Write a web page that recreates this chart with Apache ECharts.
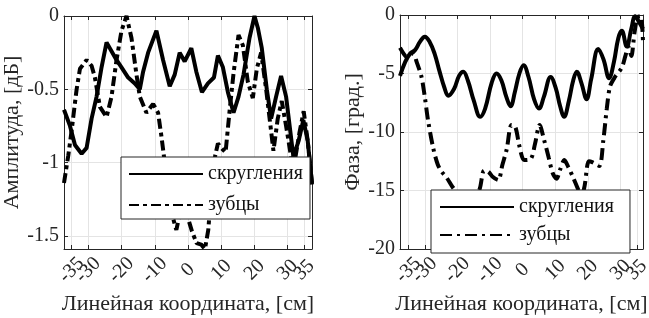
<!DOCTYPE html>
<html>
<head>
<meta charset="utf-8">
<script src="https://cdn.jsdelivr.net/npm/echarts@6/dist/echarts.min.js"></script>
<style>
  html, body { margin: 0; padding: 0; background: #fff; }
  #chart { width: 649px; height: 318px; }
</style>
</head>
<body>
<div id="chart"></div>
<script>
// тики
const xTicks = [-35, -30, -20, -10, 0, 10, 20, 30, 35];
// подписи разнесены по двум осям, чтобы соседние -35/-30 и 30/35 не скрывались
const xLabelsMain = [-35, -20, -10, 0, 10, 20, 35];
const xLabelsExtra = [-30, 30];
const ampTicks = [0, -0.5, -1, -1.5];
const phaseTicks = [0, -5, -10, -15, -20];

// амплитуда, скругления
const ampRoundX = [-37.3, -35.5, -34, -32, -30.5, -29, -27.5, -26, -24.5, -23, -21.5, -20, -18, -16, -14.5, -13.5, -12, -9.5, -7.5, -5.5, -4, -2.5, -1, 1, 2.5, 4.2, 6, 7.8, 9, 10.5, 12, 13.7, 15.2, 16.7, 18.5, 20, 21, 22.2, 23.7, 25, 26.5, 28, 29.5, 31.7, 33.3, 34.7, 36, 37.3];
const ampRoundY = [-0.64, -0.75, -0.88, -0.94, -0.90, -0.70, -0.55, -0.35, -0.18, -0.24, -0.30, -0.35, -0.42, -0.46, -0.50, -0.38, -0.25, -0.10, -0.30, -0.48, -0.40, -0.25, -0.31, -0.22, -0.38, -0.52, -0.46, -0.42, -0.27, -0.35, -0.52, -0.66, -0.55, -0.40, -0.15, 0, -0.08, -0.22, -0.50, -0.70, -0.55, -0.41, -0.55, -0.96, -0.85, -0.71, -0.85, -1.15];

// амплитуда, зубцы
const ampToothX = [-37.3, -36, -35, -33.5, -32.5, -30.5, -29, -28, -26.5, -24.5, -23, -21.5, -20, -18.5, -17, -15.5, -14.5, -12.5, -10.5, -9, -8, -7, -6, -5, -3.5, -2.4, -1.2, 0, 1.2, 2.6, 4, 5.1, 6.1, 7, 8.2, 9, 10, 11.3, 12.5, 13.7, 15.2, 16.5, 18, 19.5, 20.7, 22, 23.5, 25.7, 27, 28.2, 29.5, 31, 32.2, 33.5, 34.8, 36, 37.3];
const ampToothY = [-1.14, -0.95, -0.78, -0.50, -0.36, -0.30, -0.34, -0.42, -0.62, -0.69, -0.55, -0.30, -0.10, 0, -0.15, -0.40, -0.55, -0.66, -0.60, -0.66, -0.82, -1.0, -1.2, -1.34, -1.46, -1.34, -1.30, -1.38, -1.47, -1.55, -1.56, -1.59, -1.46, -1.2, -0.95, -0.87, -0.90, -0.93, -0.65, -0.39, -0.13, -0.20, -0.45, -0.56, -0.36, -0.25, -0.50, -0.92, -0.70, -0.58, -0.75, -0.96, -0.98, -0.80, -0.65, -0.85, -1.14];

// фаза, скругления
const phaseRoundX = [-37.6, -36, -34.5, -33, -31.5, -30, -28.5, -27, -25.5, -24, -22.8, -21, -19.5, -18.2, -16.8, -15, -13, -11.5, -9.5, -8, -6.5, -5, -3.7, -2.4, -1, 0.3, 1.8, 3.5, 5, 6.5, 8.6, 10.2, 11.5, 12.7, 14.2, 15.5, 16.6, 18, 19.6, 21, 23.2, 24.8, 26.5, 28, 29.3, 30.4, 31.9, 33.3, 34.5, 35.5, 36.9];
const phaseRoundY = [-5.2, -4.0, -3.3, -3.0, -2.3, -1.85, -2.3, -3.3, -4.8, -6.2, -6.9, -6.3, -5.2, -4.85, -5.6, -7.3, -8.7, -8.0, -5.8, -5.0, -5.6, -7.0, -7.8, -6.6, -5.0, -4.3, -5.3, -7.2, -8.0, -7.0, -5.3, -6.3, -7.8, -8.7, -7.3, -5.6, -4.85, -5.8, -7.2, -5.5, -2.9, -3.8, -5.4, -4.0, -2.0, -1.35, -2.7, -1.2, -0.1, -0.5, -1.2];

// фаза, зубцы
const phaseToothX = [-37.6, -36.5, -35.5, -34.5, -33.5, -32.5, -31, -30, -29, -27.4, -26, -24.8, -23.3, -21.5, -20, -18, -16, -14.5, -13.1, -11.8, -10.5, -9.3, -7.5, -6.2, -4.9, -3.4, -2.2, -1, 0.5, 2.5, 3.8, 5.2, 6.5, 8, 9.2, 10.4, 11.5, 12.8, 14, 15.5, 17, 18, 19, 20.3, 21.5, 23.5, 24.7, 25.8, 26.8, 28.3, 30.4, 31.5, 32.4, 33.3, 34.3, 35.2, 36.2, 36.9];
const phaseToothY = [-2.8, -3.3, -3.6, -3.4, -3.3, -4.0, -5.3, -7.0, -9.0, -11.4, -12.8, -13.4, -13.9, -14.7, -15.2, -15.8, -16.0, -15.7, -14.8, -13.3, -13.4, -13.8, -14.1, -12.8, -11.5, -9.4, -9.6, -11.2, -12.4, -12.3, -11.0, -9.4, -10.6, -12.2, -13.5, -14.0, -13.2, -12.4, -13.0, -13.9, -14.9, -15.6, -14.6, -12.5, -12.6, -12.9, -10.8, -8.0, -6.1, -5.3, -4.5, -3.5, -2.7, -3.5, -1.5, -0.2, -0.1, -2.3];

const font = 'Liberation Serif';
const axisColor = '#262626';
const gridColor = '#e4e4e4';
const leftDash = [10, 4, 4, 4];
const rightDash = [12, 5, 3, 5];

const zip = (xs, ys) => xs.map((x, i) => [x, ys[i]]);

const chart = echarts.init(document.getElementById('chart'));

const xLabelStyle = {
  rotate: 45, align: 'center', verticalAlign: 'middle', margin: 21,
  hideOverlap: false, showMinLabel: true, showMaxLabel: true,
  fontFamily: font, fontSize: 20, color: axisColor
};

// оси x одного графика: нижняя, верхняя рамка и доп. подписи
const xAxes = (gridIndex, min, max) => [
  {
    type: 'value', gridIndex, position: 'bottom', min, max,
    name: 'Линейная координата, [см]', nameLocation: 'middle', nameGap: 38,
    nameTextStyle: { fontFamily: font, fontSize: 22, color: axisColor },
    axisLine: { show: true, onZero: false, lineStyle: { color: axisColor } },
    axisTick: { show: true, inside: true, length: 4, customValues: xTicks, lineStyle: { color: axisColor } },
    axisLabel: Object.assign({ customValues: xLabelsMain }, xLabelStyle),
    splitLine: { show: true, lineStyle: { color: gridColor } }
  },
  {
    type: 'value', gridIndex, position: 'top', min, max,
    axisLine: { show: true, onZero: false, lineStyle: { color: axisColor } },
    axisTick: { show: true, inside: true, length: 4, customValues: xTicks, lineStyle: { color: axisColor } },
    axisLabel: { show: false },
    splitLine: { show: false }
  },
  {
    type: 'value', gridIndex, position: 'bottom', offset: 0, min, max,
    axisLine: { show: false, onZero: false },
    axisTick: { show: false },
    axisLabel: Object.assign({ customValues: xLabelsExtra }, xLabelStyle),
    splitLine: { show: false }
  }
];

const yAxes = (gridIndex, min, max, ticks, name, nameGap) => [
  {
    type: 'value', gridIndex, position: 'left', min, max,
    name, nameLocation: 'middle', nameGap,
    nameTextStyle: { fontFamily: font, fontSize: 22, color: axisColor },
    axisLine: { show: true, onZero: false, lineStyle: { color: axisColor } },
    axisTick: { show: true, inside: true, length: 4, customValues: ticks, lineStyle: { color: axisColor } },
    axisLabel: { customValues: ticks, margin: 5, hideOverlap: false, fontFamily: font, fontSize: 20, color: axisColor },
    splitLine: { show: true, lineStyle: { color: gridColor } }
  },
  {
    type: 'value', gridIndex, position: 'right', min, max,
    axisLine: { show: true, onZero: false, lineStyle: { color: axisColor } },
    axisTick: { show: true, inside: true, length: 4, customValues: ticks, lineStyle: { color: axisColor } },
    axisLabel: { show: false },
    splitLine: { show: false }
  }
];

const legendBase = {
  orient: 'vertical', itemWidth: 74, itemHeight: 14,
  borderColor: axisColor, borderWidth: 1, backgroundColor: '#fff', borderRadius: 0,
  textStyle: { fontFamily: font, fontSize: 20, color: '#111' },
  itemStyle: { color: 'rgba(0,0,0,0)', borderColor: 'rgba(0,0,0,0)', borderWidth: 0, opacity: 0 },
  selectedMode: false
};

chart.setOption({
  animation: false,
  backgroundColor: '#fff',
  grid: [
    { left: 64, top: 16, right: 337, bottom: 69, outerBoundsMode: 'none' },
    { left: 400, top: 15, right: 6, bottom: 69, outerBoundsMode: 'none' }
  ],
  xAxis: [...xAxes(0, -37.3, 37.3), ...xAxes(1, -37.6, 36.9)],
  yAxis: [
    ...yAxes(0, -1.59, 0, ampTicks, 'Амплитуда, [дБ]', 31),
    ...yAxes(1, -20, 0, phaseTicks, 'Фаза, [град.]', 28)
  ],
  legend: [
    Object.assign({}, legendBase, {
      left: 121, top: 157, padding: [7, 7, 4, 7], itemGap: 11,
      data: [{ name: 'скругления' }, { name: 'зубцы', lineStyle: { type: leftDash } }]
    }),
    Object.assign({}, legendBase, {
      left: 431, top: 190, padding: [7, 16, 8, 8], itemGap: 8,
      data: [{ name: 'скругления' }, { name: 'зубцы', lineStyle: { type: rightDash } }]
    })
  ],
  series: [
    {
      name: 'скругления', type: 'line', xAxisIndex: 0, yAxisIndex: 0,
      symbol: 'none', data: zip(ampRoundX, ampRoundY),
      lineStyle: { color: '#000', width: 4, type: 'solid' }, itemStyle: { color: '#000' }
    },
    {
      name: 'зубцы', type: 'line', xAxisIndex: 0, yAxisIndex: 0,
      symbol: 'none', data: zip(ampToothX, ampToothY),
      lineStyle: { color: '#000', width: 4, type: leftDash }, itemStyle: { color: '#000' }
    },
    {
      name: 'скругления', type: 'line', xAxisIndex: 3, yAxisIndex: 2,
      symbol: 'none', smooth: 0.4, data: zip(phaseRoundX, phaseRoundY),
      lineStyle: { color: '#000', width: 4, type: 'solid' }, itemStyle: { color: '#000' }
    },
    {
      name: 'зубцы', type: 'line', xAxisIndex: 3, yAxisIndex: 2,
      symbol: 'none', smooth: 0.3, data: zip(phaseToothX, phaseToothY),
      lineStyle: { color: '#000', width: 4, type: rightDash }, itemStyle: { color: '#000' }
    }
  ]
});
</script>
</body>
</html>
